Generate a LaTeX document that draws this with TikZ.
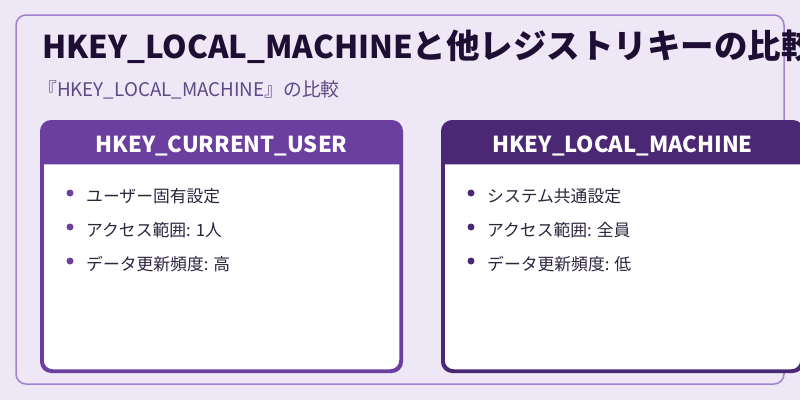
\documentclass[tikz,border=0pt]{standalone}
\usepackage{fontspec}
\setmainfont{Noto Sans CJK JP}
\usepackage{xcolor}
\usetikzlibrary{positioning}
\definecolor{RegBack}{RGB}{238, 231, 246}
\definecolor{RegFrame}{RGB}{160, 130, 205}
\definecolor{RegTitle}{RGB}{31, 14, 52}
\definecolor{RegSub}{RGB}{92, 74, 132}
\definecolor{RegText}{RGB}{45, 36, 62}
\definecolor{UserPurple}{RGB}{107, 63, 160}
\definecolor{MachinePurple}{RGB}{75, 40, 115}

\tikzset{
  card/.style={draw=#1, fill=white, line width=2.5pt, rounded corners=10pt,
               minimum width=358pt, minimum height=248pt, inner sep=0pt},
  headtext/.style={anchor=base, text=white, font=\fontsize{22}{26}\selectfont\bfseries},
  item/.style={anchor=base west, inner sep=0pt, text=RegText, font=\fontsize{16.8}{20}\selectfont},
  dot/.style={circle, fill=#1, inner sep=0pt, minimum size=7pt},
}

\begin{document}
\begin{tikzpicture}[x=1pt, y=-1pt]
  \useasboundingbox (0,0) rectangle (800,400);
  \fill[RegBack] (0,0) rectangle (800,400);
  % outer frame
  \draw[RegFrame, line width=1.5pt, rounded corners=10pt] (16,15) rectangle (784,384);

  \node[anchor=base west, inner sep=0pt, text=RegTitle, font=\fontsize{33.5}{40}\selectfont\bfseries]
    (mainTitle) at (42,58) {{\fontsize{31.3}{40}\selectfont HKEY\_LOCAL\_MACHINE}と他レジストリキーの比較};
  \node[anchor=base west, inner sep=0pt, text=RegSub, font=\fontsize{18.8}{22}\selectfont]
    (subTitle) at (38,96) {『HKEY\_LOCAL\_MACHINE』の比較};

  % HKEY_CURRENT_USER card
  \node[card=UserPurple, anchor=north west] (userCard) at (41.25,121.25) {};
  \fill[UserPurple] ([yshift=-43pt]userCard.north west) [rounded corners=10pt]
    -- (userCard.north west) -- (userCard.north east) [sharp corners]
    -- ([yshift=-43pt]userCard.north east) -- cycle;
  \draw[UserPurple, line width=2.5pt, rounded corners=10pt] (userCard.north west) rectangle (userCard.south east);
  \node[headtext] (userHead) at ([yshift=-31pt]userCard.north) {HKEY\_CURRENT\_USER};
  \node[item] (userItemA) at (86,202) {ユーザー固有設定};
  \node[item] (userItemB) at (86,236) {アクセス範囲: 1人};
  \node[item] (userItemC) at (86,270) {データ更新頻度: 高};
  \node[dot=UserPurple] at ([xshift=-16pt, yshift=9pt]userItemA.base west) {};
  \node[dot=UserPurple] at ([xshift=-16pt, yshift=9pt]userItemB.base west) {};
  \node[dot=UserPurple] at ([xshift=-16pt, yshift=9pt]userItemC.base west) {};

  % HKEY_LOCAL_MACHINE card
  \node[card=MachinePurple, anchor=north west] (machineCard) at (442.25,121.25) {};
  \fill[MachinePurple] ([yshift=-43pt]machineCard.north west) [rounded corners=10pt]
    -- (machineCard.north west) -- (machineCard.north east) [sharp corners]
    -- ([yshift=-43pt]machineCard.north east) -- cycle;
  \draw[MachinePurple, line width=2.5pt, rounded corners=10pt] (machineCard.north west) rectangle (machineCard.south east);
  \node[headtext] (machineHead) at ([yshift=-31pt]machineCard.north) {HKEY\_LOCAL\_MACHINE};
  \node[item] (machineItemA) at (487,202) {システム共通設定};
  \node[item] (machineItemB) at (487,236) {アクセス範囲: 全員};
  \node[item] (machineItemC) at (487,270) {データ更新頻度: 低};
  \node[dot=MachinePurple] at ([xshift=-16pt, yshift=9pt]machineItemA.base west) {};
  \node[dot=MachinePurple] at ([xshift=-16pt, yshift=9pt]machineItemB.base west) {};
  \node[dot=MachinePurple] at ([xshift=-16pt, yshift=9pt]machineItemC.base west) {};
\end{tikzpicture}
\end{document}
